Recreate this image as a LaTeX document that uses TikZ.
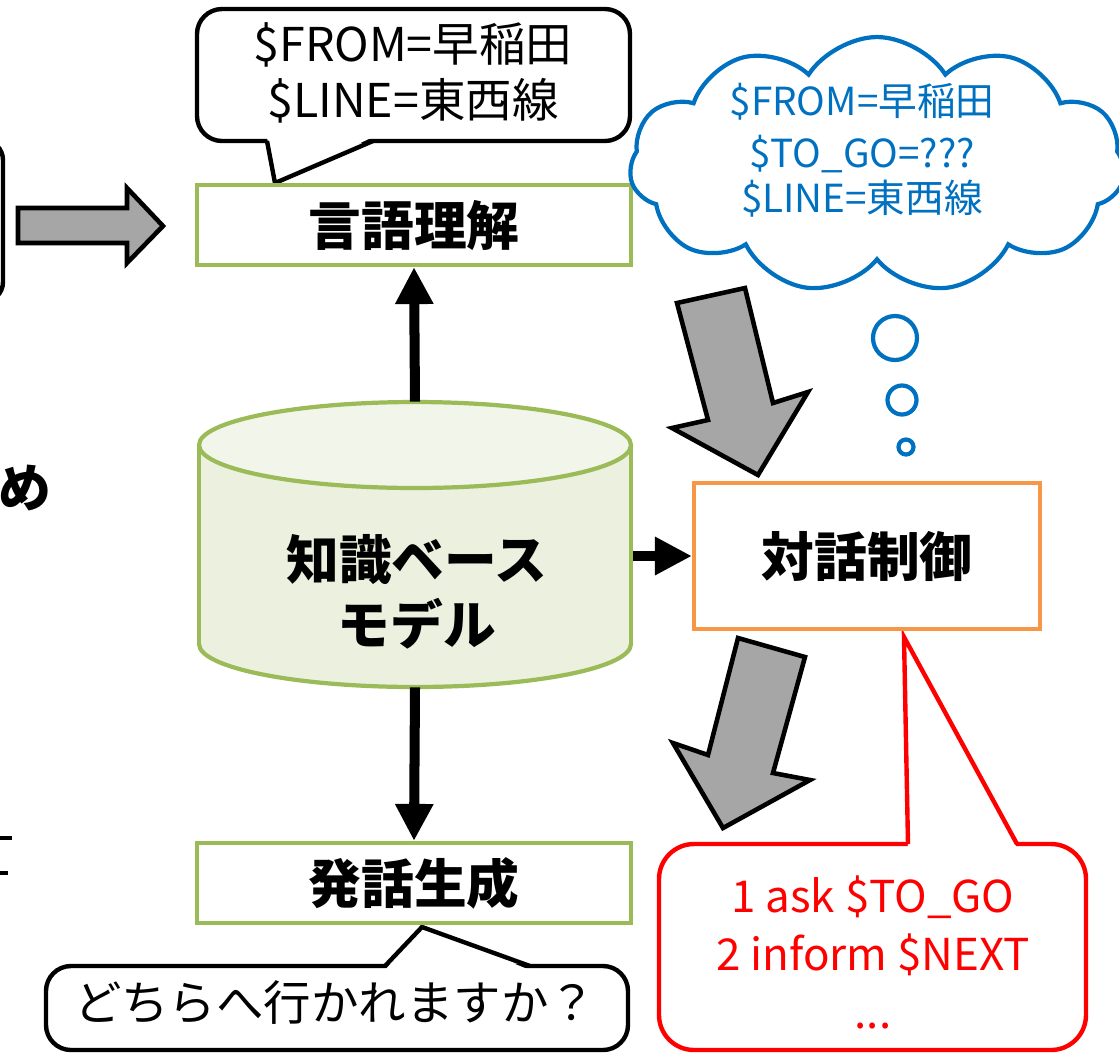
\documentclass[tikz,border=0pt]{standalone}
\usepackage{fontspec}
\newfontfamily\jp{Noto Sans CJK JP}
\usetikzlibrary{arrows.meta,shapes.symbols}
\definecolor{kgreen}{HTML}{9BBB59}
\definecolor{korange}{HTML}{F79646}
\definecolor{kblue}{HTML}{0070C0}
\definecolor{kgray}{HTML}{A6A6A6}
\definecolor{dbfill}{HTML}{EBF1DE}
\definecolor{dbtop}{HTML}{F2F6EA}
\definecolor{kred}{HTML}{FF0000}
\begin{document}
\begin{tikzpicture}[x=0.02cm, y=-0.02cm,
  every node/.style={font=\jp},
  lw/.style={line width=2.4pt},
  procbox/.style={draw=kgreen, line width=2.4pt, fill=white, minimum width=8.68cm, minimum height=1.6cm, inner sep=0pt, font=\jp\bfseries\fontsize{30}{36}\selectfont},
  ctlbox/.style={draw=korange, line width=2.4pt, fill=white, minimum width=6.92cm, minimum height=2.92cm, inner sep=0pt, font=\jp\bfseries\fontsize{30}{36}\selectfont},
  callout/.style={draw=black, line width=2.5pt, fill=white, rounded corners=0.5cm},
  tailline/.style={line width=2.5pt, line join=miter},
  blk/.style={line width=5.7pt, -{Triangle[length=0.74cm,width=0.72cm]}},
  garrow/.style={fill=kgray, draw=black, line width=2.6pt, line join=miter},
  bubble/.style={circle, draw=kblue, line width=2.4pt, inner sep=0pt},
]
\useasboundingbox (0,0) rectangle (1119,1056);
\clip (0,0) rectangle (1119,1056);

% ---- fragments at the left edge
\draw[line width=2.5pt, rounded corners=0.4cm] (-300,140) rectangle (3,302);
\node[font=\jp\bfseries\fontsize{30}{36}\selectfont, inner sep=0pt] (frag) at (25,488) {め};
\coordinate (fa) at (-2,838); \coordinate (fb) at (12,838);
\coordinate (fc) at (-2,873); \coordinate (fd) at (8,873);
\draw[line width=1.8pt] (fa) -- (fb);
\draw[line width=1.8pt] (fc) -- (fd);

% ---- grey block arrow at left
\draw[garrow] (18,208) -- (127,208) -- (127,188) -- (163,226) -- (127,263) -- (127,243) -- (18,243) -- cycle;

% ---- top speech callout
\draw[callout] (197,9) rectangle (630,141);
\fill[white] (267,137) -- (275,183) -- (373,137) -- cycle;
\draw[tailline] (267,141) -- (275,183) -- (373,141);
\node[align=center, font=\jp\fontsize{26.5}{32}\selectfont, inner sep=0pt] (say) at (413,73) {\$FROM=早稲田\\\$LINE=東西線};

% ---- language understanding
\node[procbox] (nlu) at (414,225) {言語理解};

% ---- knowledge base cylinder
\node[minimum width=8.72cm, minimum height=5.7cm, inner sep=0pt] (db) at (415,544.5) {};
\fill[dbfill] (199,445) rectangle (631,644);
\fill[dbfill] (415,644) ellipse [x radius=4.32cm, y radius=0.86cm];
\draw[kgreen, lw] (199,445) -- (199,644);
\draw[kgreen, lw] (631,445) -- (631,644);
\begin{scope}
  \clip (150,644) rectangle (700,720);
  \draw[kgreen, lw] (415,644) ellipse [x radius=4.32cm, y radius=0.86cm];
\end{scope}
\filldraw[fill=dbtop, draw=kgreen, lw] (415,445) ellipse [x radius=4.32cm, y radius=0.86cm];
\node[font=\jp\bfseries\fontsize{30}{37}\selectfont, align=center, inner sep=0pt] (dbtext) at (417,592) {知識ベース\\モデル};

% ---- cloud (thought)
\node[cloud, cloud puffs=11, cloud puff arc=115, aspect=1.9, draw=kblue, line width=2.4pt, minimum width=9.9cm, minimum height=5.12cm] (cloud) at (877,165) {};
\node[align=center, text=kblue, font=\jp\fontsize{22}{27.5}\selectfont, inner sep=0pt] (cloudtxt) at (862,150) {\$FROM=早稲田\\[2pt]\$TO\_GO=???\\[-2pt]\$LINE=東西線};
\node[bubble, minimum size=0.88cm] (b1) at (895,338) {};
\node[bubble, minimum size=0.58cm] (b2) at (902,400) {};
\node[bubble, minimum size=0.30cm] (b3) at (906,447) {};

% ---- red plan callout
\draw[callout, draw=kred, rounded corners=0.7cm] (659,844) rectangle (1086,1050);
\fill[white] (908,848) -- (904,637) -- (1017,848) -- cycle;
\draw[tailline, kred] (908,844) -- (904,637) -- (1017,844);
\node[align=center, text=kred, font=\jp\fontsize{25}{33}\selectfont, inner sep=0pt] (plan) at (873,952) {1 ask \$TO\_GO\\2 inform \$NEXT\\...};

% ---- dialogue control
\node[ctlbox] (ctl) at (867,556) {対話制御};

% ---- grey diagonal arrows
\draw[garrow] (677,303) -- (745,288) -- (773,403) -- (808,392) -- (758,475) -- (672,428) -- (708,420) -- cycle;
\draw[garrow] (738,638) -- (805,657) -- (773,773) -- (810,780) -- (723,828) -- (673,743) -- (708,755) -- cycle;

% ---- bottom speech callout
\draw[callout] (46,966) rectangle (628,1050);
\fill[white] (385,970) -- (422,927) -- (530,970) -- cycle;
\draw[tailline] (385,966) -- (422,927) -- (530,966);
\node[font=\jp\fontsize{27}{31}\selectfont, inner sep=0pt] (reply) at (335,1003) {どちらへ行かれますか？};

% ---- utterance generation
\node[procbox] (nlg) at (414,883) {発話生成};

% ---- black arrows
\draw[blk] (db.north) -- (nlu.south);
\draw[blk] (db.east |- ctl.west) -- (ctl.west);
\draw[blk] (db.south) -- (nlg.north);
\end{tikzpicture}
\end{document}
